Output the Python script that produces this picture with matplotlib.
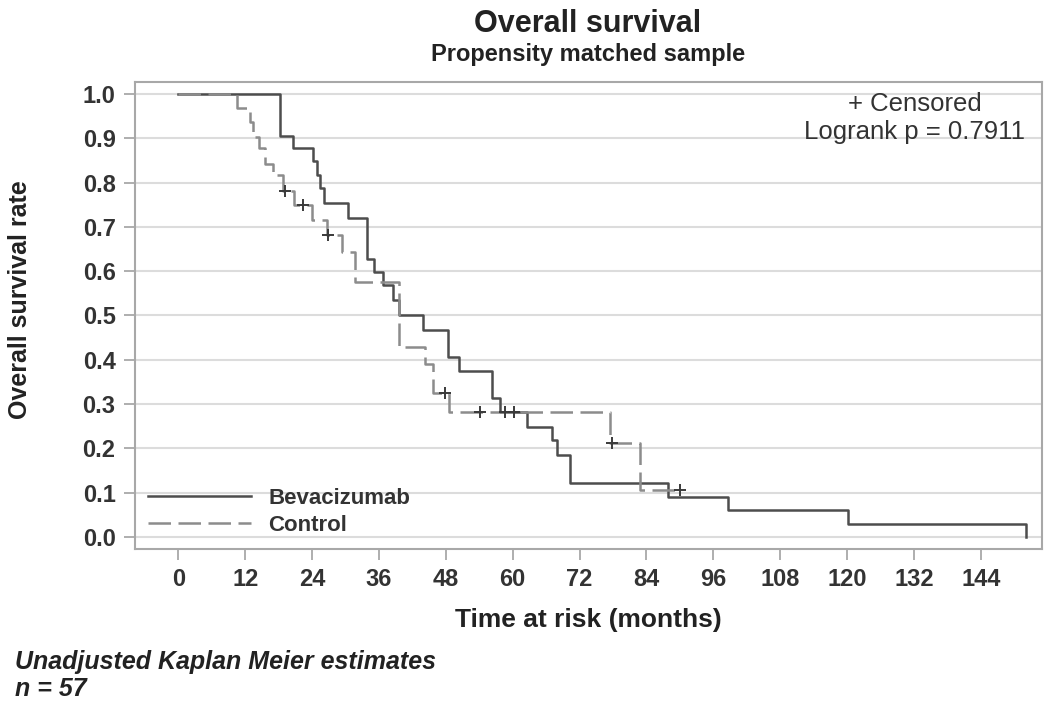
import numpy as np
import matplotlib
matplotlib.use("Agg")
import matplotlib.pyplot as plt

plt.rcParams['font.family'] = ['Liberation Sans', 'DejaVu Sans']

# Bevacizumab arm: event times (months) and survival after each step
bev_t = [0, 18.2, 20.5, 24.1, 24.8, 25.4, 26.1, 30.4, 33.8, 35.1, 36.7, 38.5, 39.6,
         43.9, 48.3, 50.3, 56.2, 57.8, 62.5, 67.0, 67.9, 70.2, 87.8, 98.7, 120.1, 152.2]
bev_s = [1.0, 0.905, 0.878, 0.849, 0.817, 0.788, 0.754, 0.720, 0.627, 0.598, 0.569, 0.535, 0.501,
         0.467, 0.406, 0.375, 0.314, 0.282, 0.248, 0.219, 0.185, 0.122, 0.091, 0.061, 0.030, 0.0]

# Control arm
ctl_t = [0, 10.5, 12.8, 13.4, 14.4, 15.5, 17.0, 18.7, 20.7, 23.9, 26.6, 29.3, 31.7,
         39.6, 44.3, 45.6, 48.6, 77.4, 82.8, 90.0]
ctl_s = [1.0, 0.968, 0.937, 0.903, 0.878, 0.842, 0.817, 0.781, 0.749, 0.716, 0.682, 0.643, 0.576,
         0.430, 0.390, 0.325, 0.282, 0.212, 0.106, 0.106]

# censored observations (control arm)
ctl_cens = [19.1, 22.3, 26.9, 47.9, 54.2, 58.6, 60.2, 77.8, 90.0]

xticks = list(range(0, 145, 12))
yticks = [round(0.1 * i, 1) for i in range(11)]


def surv_at(t, s, times):
    idx = np.searchsorted(t, times, side='right') - 1
    return np.array(s)[idx]


fig = plt.figure(figsize=(10.5, 7.06), dpi=100)
ax = fig.add_axes([135 / 1050, 1 - 549 / 706, (1042 - 135) / 1050, (549 - 82) / 706])

ax.step(bev_t, bev_s, where='post', color='#4d4d4d', lw=1.8, label='Bevacizumab')
ln, = ax.step(ctl_t, ctl_s, where='post', color='#8c8c8c', lw=1.8, label='Control')
ln.set_dashes((9, 3))

ax.plot(ctl_cens, surv_at(ctl_t, ctl_s, ctl_cens), '+', color='#3a3a3a', ms=9, mew=1.4)

ax.set_xlim(-7.8, 155)
ax.set_ylim(-0.027, 1.027)
ax.set_xticks(xticks)
ax.set_yticks(yticks)
ax.set_yticklabels([f"{v:.1f}" for v in yticks])
ax.grid(axis='y', color='#dcdcdc', lw=1.5)
ax.set_axisbelow(True)
for sp in ax.spines.values():
    sp.set_color('#a8a8a8')
    sp.set_linewidth(1.5)
ax.tick_params(length=8, width=1.3, color='#a8a8a8', labelsize=17, labelcolor='#333333', pad=6)
for lab in ax.get_xticklabels() + ax.get_yticklabels():
    lab.set_fontweight('bold')

leg = ax.legend(loc='lower left', frameon=False, handlelength=4.6, fontsize=16,
                borderaxespad=0.2, labelspacing=0.25, handletextpad=0.8)
for t in leg.get_texts():
    t.set_fontweight('bold')
    t.set_color('#333333')

fig.text(915 / 1050, 1 - 118 / 706, "+ Censored\nLogrank p = 0.7911", ha='center', va='center',
         fontsize=18.5, color='#333333', linespacing=1.2)

fig.text(588 / 1050, 1 - 24 / 706, "Overall survival", ha='center', va='center',
         fontsize=22, fontweight='bold', color='#222222')
fig.text(588 / 1050, 1 - 55 / 706, "Propensity matched sample", ha='center', va='center',
         fontsize=17, fontweight='bold', color='#222222')
fig.text(588 / 1050, 1 - 620 / 706, "Time at risk (months)", ha='center', va='center',
         fontsize=19, fontweight='bold', color='#222222')
fig.text(20 / 1050, 1 - 300 / 706, "Overall survival rate", ha='center', va='center',
         rotation=90, fontsize=18, fontweight='bold', color='#222222')
fig.text(15 / 1050, 1 - 662 / 706, "Unadjusted Kaplan Meier estimates", ha='left', va='center',
         fontsize=18, fontweight='bold', style='italic', color='#222222')
fig.text(15 / 1050, 1 - 689 / 706, "n = 57", ha='left', va='center',
         fontsize=18, fontweight='bold', style='italic', color='#222222')

fig.savefig("out.png", dpi=100)
